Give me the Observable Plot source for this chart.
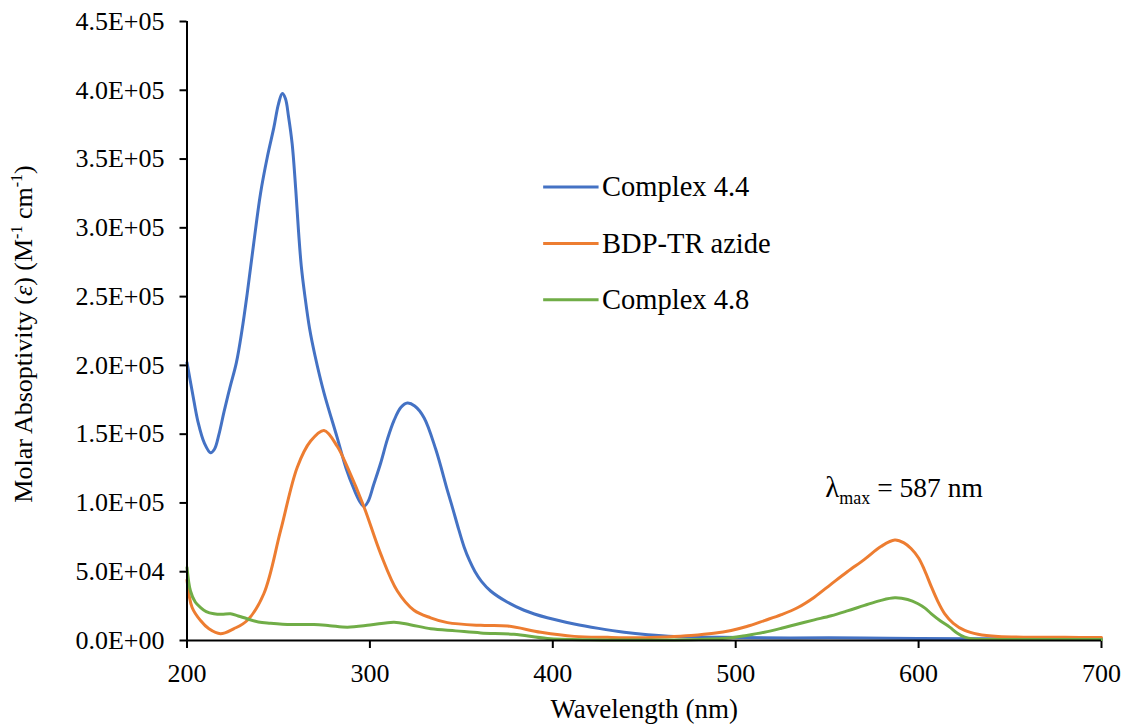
<!DOCTYPE html>
<html>
<head>
<meta charset="utf-8">
<script src="https://cdn.jsdelivr.net/npm/d3@7"></script>
<script src="https://cdn.jsdelivr.net/npm/@observablehq/plot@0.6"></script>
<style>
  html, body { margin: 0; padding: 0; background: #fff; }
  #chart { width: 1122px; height: 724px; }
  #chart svg, #chart svg text, #chart svg tspan {
    font-family: "Liberation Serif", "Times New Roman", Times, serif !important;
  }
</style>
</head>
<body>
<div id="chart"></div>
<script>
// UV-Vis absorption spectra: molar absorptivity (M^-1 cm^-1) against wavelength (nm)

const seriesNames = ["Complex 4.4", "BDP-TR azide", "Complex 4.8"];
const seriesColors = ["#4472C4", "#ED7D31", "#70AD47"];

// Complex 4.4
const complex44Nm = [200, 203, 206, 209.5, 212.9, 215, 217.5, 220.2, 223.5, 227, 230, 232.9, 236.5, 240.2, 244, 247.5, 250, 252.1, 253.8, 255.5, 257.5, 259.5, 261, 262.5, 264.5, 267, 270, 274.9, 282, 287, 291.3, 294.5, 296.8, 299, 302, 305.9, 309.5, 313.2, 317, 320.5, 324.5, 329.6, 336, 342.4, 345.5, 348.5, 351.5, 354.5, 357.5, 361, 366, 375, 384.3, 397, 411.7, 425, 439, 452, 466.4, 485, 503, 530, 570, 600, 650, 700];
const complex44Eps = [202000, 180000, 159000, 143500, 136500, 139000, 150000, 166000, 184000, 202000, 225000, 252000, 289000, 325000, 352000, 373000, 390000, 397600, 394000, 381000, 361000, 327000, 297000, 272000, 250000, 227000, 207000, 180000, 148000, 125000, 110000, 101000, 97500, 101000, 113000, 129000, 146000, 160000, 169500, 172600, 170500, 162000, 139000, 109000, 95000, 81000, 68000, 58000, 50000, 43000, 36000, 28000, 22000, 16500, 12000, 8800, 6000, 4200, 2900, 2400, 2200, 1900, 1900, 1400, 1200, 1000];

// BDP-TR azide
const bdpNm = [200, 202.8, 207.4, 212, 218.3, 225.5, 232.9, 242, 251.2, 260.3, 267.6, 274.9, 282.2, 287.7, 296.8, 305.9, 315, 324.1, 333.2, 342.4, 360.6, 375.3, 393.5, 411.7, 430, 448.2, 462, 475.6, 488, 497.5, 506, 515.7, 525, 534, 543, 552.2, 561, 570.4, 579.6, 587, 592, 596, 600, 603.3, 607, 610.5, 614.3, 619, 625.2, 632.5, 643.5, 661.7, 680, 700];
const bdpEps = [44000, 24000, 14500, 8500, 4900, 8500, 14500, 34000, 80000, 126000, 145000, 152700, 141000, 126000, 97000, 63000, 36000, 22000, 16500, 13000, 11000, 10500, 6000, 3000, 2300, 2000, 2600, 3600, 5200, 7300, 10200, 14500, 18800, 24000, 31500, 41000, 50000, 59000, 68500, 73000, 71000, 66700, 60000, 51000, 39000, 28500, 19400, 12500, 7300, 4500, 2900, 2400, 2300, 2200];

// Complex 4.8
const complex48Nm = [200, 201.9, 204.5, 207.4, 210.5, 214.7, 219, 223.8, 228, 232.9, 239, 245.7, 257, 269.4, 278, 287.7, 300, 313.2, 322, 333.3, 347, 360.6, 378.7, 397, 420, 450, 480, 497.5, 506, 515.7, 525, 534, 543, 552.2, 561, 570.4, 579, 587, 594, 599.7, 603.5, 607, 612, 617, 621, 625.2, 630, 640, 660, 700];
const complex48Eps = [53000, 36000, 28000, 24000, 21000, 19400, 19000, 19400, 17800, 15800, 13500, 12600, 11600, 11600, 10800, 9700, 11200, 13300, 11500, 8500, 7000, 5500, 4500, 1500, 500, 400, 800, 2000, 3700, 6000, 8900, 12000, 15000, 18000, 21500, 25500, 29000, 31000, 29800, 26700, 23500, 19400, 14200, 9700, 5500, 2400, 1100, 800, 800, 800];

// Axis ticks
const xTicks = [200, 300, 400, 500, 600, 700];
const yTicks = [0, 50000, 100000, 150000, 200000, 250000, 300000, 350000, 400000, 450000];

// Text
const xTitle = "Wavelength (nm)";
const yTitle = "Molar Absoptivity (ε) (M-1 cm-1)";
const peakLabel = "λmax = 587 nm";
const peakNm = 587;

const spectra = [
  [complex44Nm, complex44Eps],
  [bdpNm, bdpEps],
  [complex48Nm, complex48Eps]
];
const rows = spectra.flatMap(([nm, eps], i) =>
  nm.map((w, j) => ({series: seriesNames[i], nm: w, eps: eps[j]}))
);

// Legend entries placed inside the plot area, stacked downward
const legendRows = seriesNames.map((name, i) => ({name, y: 329700 - i * 41000}));

// Excel-style scientific format, e.g. 4.5E+05
function sciFormat(v) {
  if (v === 0) return "0.0E+00";
  const exp = Math.floor(Math.log10(Math.abs(v)) + 1e-9);
  const mant = v / Math.pow(10, exp);
  return mant.toFixed(1) + "E" + (exp < 0 ? "-" : "+") + String(Math.abs(exp)).padStart(2, "0");
}

const font = "Liberation Serif, Times New Roman, serif";

const chart = Plot.plot({
  width: 1122,
  height: 724,
  marginLeft: 186.5,
  marginRight: 21,
  marginTop: 21,
  marginBottom: 84,
  style: {fontFamily: font, fontSize: "26px", color: "#000", background: "#fff", overflow: "visible"},
  x: {domain: [200, 700], label: null},
  y: {domain: [0, 450000], label: null},
  color: {domain: seriesNames, range: seriesColors},
  marks: [
    Plot.axisX({ticks: xTicks, tickSize: 8, tickPadding: 15, fontSize: 26, fontFamily: font, strokeWidth: 2, label: null}),
    Plot.axisY({ticks: yTicks, tickSize: 7, tickPadding: 15.5, tickFormat: sciFormat, fontSize: 26, fontFamily: font, strokeWidth: 2, label: null}),
    Plot.line(rows, {x: "nm", y: "eps", z: "series", stroke: "series", strokeWidth: 3, curve: "catmull-rom"}),
    Plot.ruleY([0], {stroke: "#000", strokeWidth: 2}),
    Plot.ruleX([200], {stroke: "#000", strokeWidth: 2}),
    Plot.ruleY(legendRows, {y: "y", x1: 395, x2: 425.3, stroke: "name", strokeWidth: 3}),
    Plot.text(legendRows, {x: 425.3, y: "y", text: "name", textAnchor: "start", lineAnchor: "middle", dx: 3, fontSize: 28.5, fontFamily: font, fill: "#000"}),
    Plot.text([peakLabel], {x: peakNm, y: 111000, text: d => d, textAnchor: "end", lineAnchor: "middle", dx: 88, fontSize: 27.5, fontFamily: font, fill: "#000"}),
    Plot.text([xTitle], {frameAnchor: "bottom", text: d => d, textAnchor: "middle", lineAnchor: "middle", dy: 69, fontSize: 27, fontFamily: font, fill: "#000"}),
    Plot.text([yTitle], {frameAnchor: "left", text: d => d, rotate: -90, textAnchor: "middle", lineAnchor: "middle", dx: -163, dy: 3, fontSize: 26, fontFamily: font, fill: "#000"})
  ]
});

document.getElementById("chart").appendChild(chart);

// Rich text: italic epsilon, superscript exponents and the "max" subscript
const svg = d3.select(chart);
svg.selectAll("text").filter(function() { return this.textContent === yTitle; }).each(function() {
  const t = d3.select(this);
  t.text(null);
  t.append("tspan").text("Molar Absoptivity (");
  t.append("tspan").attr("font-style", "italic").text("ε");
  t.append("tspan").text(") (M");
  t.append("tspan").attr("font-size", "16px").attr("dy", "-10").text("-1");
  t.append("tspan").attr("dy", "10").text(" cm");
  t.append("tspan").attr("font-size", "16px").attr("dy", "-10").text("-1");
  t.append("tspan").attr("dy", "10").text(")");
});
svg.selectAll("text").filter(function() { return this.textContent === peakLabel; }).each(function() {
  const t = d3.select(this);
  t.text(null);
  t.append("tspan").attr("font-size", "29px").text("λ");
  t.append("tspan").attr("font-size", "18px").attr("dy", "7").text("max");
  t.append("tspan").attr("dy", "-7").text(" = 587 nm");
});
</script>
</body>
</html>
